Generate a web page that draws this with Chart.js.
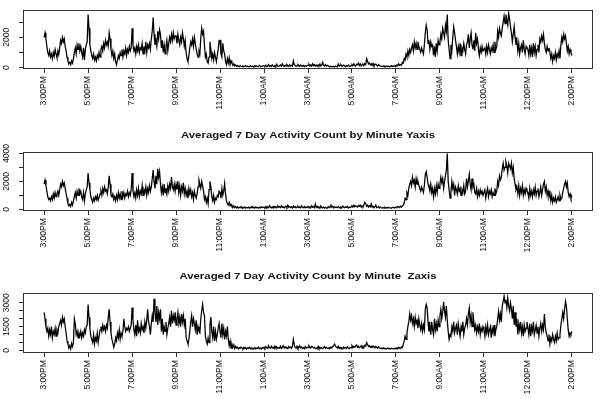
<!DOCTYPE html>
<html><head><meta charset="utf-8">
<script src="https://cdn.jsdelivr.net/npm/chart.js"></script>
<style>
html,body{margin:0;padding:0;background:#fff;width:600px;height:399px;overflow:hidden}
canvas{position:absolute;left:0}
</style></head><body>
<canvas id="c1" width="600" height="120" style="top:0px"></canvas>
<canvas id="c2" width="600" height="142" style="top:120px"></canvas>
<canvas id="c3" width="600" height="137" style="top:262px"></canvas>
<script>
// tick labels (one tick every 120 minutes)
const xTickLabels = ["3:00PM","5:00PM","7:00PM","9:00PM","11:00PM","1:00AM","3:00AM","5:00AM","7:00AM","9:00AM","11:00AM","12:00PM","2:00PM"];
const xTickIndex = [0,24,48,72,96,120,144,168,192,216,240,264,288];

const titleY = "Averaged 7 Day Activity Count by Minute Yaxis";
const titleZ = "Averaged 7 Day Activity Count by Minute  Zaxis";

// activity counts (48 samples per 2-hour tick interval, from 3:00PM)
const xAxisCounts = [
2000,2300,1900,1400,1000,800,1100,700,900,600,1000,750,
1200,900,650,1100,850,1300,1800,1600,2000,1700,1900,1400,
1100,700,450,250,350,200,450,300,600,1000,1300,900,
1500,1200,1600,1100,1400,1000,700,1300,500,1200,1500,1700,
3500,2600,1500,1100,800,600,900,500,700,450,800,600,
1000,700,1200,1400,1100,1600,1300,1800,1500,1700,1400,2300,
1900,1200,800,1100,600,900,400,200,500,800,600,1000,
800,1200,700,1100,900,1300,800,1200,1000,1400,1100,1300,
2600,1500,1100,1300,900,1400,1100,1500,1000,1300,1200,1600,
900,1400,1100,1700,1000,1500,1300,1600,1200,1900,2400,3300,
2200,1500,1800,1400,2400,1900,2500,2200,1300,1800,1000,1500,
900,1400,1800,1100,1600,2000,1700,2200,1800,2300,1900,2100,
2100,1600,2200,1800,1500,2000,1700,2300,1900,1400,1800,1000,
600,400,800,1300,1700,1500,1900,1400,2000,1600,1200,900,
700,1100,900,2000,2600,2200,2400,1500,700,900,400,300,
700,1700,1200,600,900,500,1000,700,400,800,1200,1800,
1800,900,700,1600,1100,900,400,200,600,300,650,200,
450,300,150,250,120,180,80,140,100,60,130,90,
70,110,60,90,140,70,100,60,80,120,70,100,
90,60,130,80,110,70,90,150,60,100,80,120,
120,80,160,60,100,200,90,130,70,180,110,60,
150,90,220,100,70,130,180,90,250,120,80,160,
100,200,130,70,180,110,150,90,450,200,140,90,
110,200,130,80,170,110,90,150,70,120,90,140,
150,220,100,180,90,250,130,200,110,160,80,190,
120,230,100,170,350,140,110,200,90,160,120,80,
60,90,70,60,80,50,90,70,60,240,110,150,
200,90,130,170,100,60,130,90,170,110,80,140,
200,120,250,150,90,220,180,300,140,250,110,180,
230,130,270,200,600,420,250,300,180,250,150,280,
120,200,240,160,90,200,130,110,80,100,70,120,
60,90,110,70,100,60,80,130,70,110,90,140,
100,180,120,250,150,200,160,350,300,600,500,900,
700,1100,800,1200,1000,1300,1500,1100,1700,1300,1600,1200,
1700,1400,1200,1000,1300,1100,900,1500,2300,2800,2500,1600,
1800,1200,1700,1400,1500,800,1400,700,1600,1100,1800,1500,
1700,2200,1900,2600,2300,2000,2800,2400,3500,1800,1200,600,
1500,1100,2000,2700,2300,1800,1400,900,1400,1000,1600,800,
1300,1100,1600,1200,900,1500,1700,2200,1300,1900,2300,1500,
1200,1800,1100,2300,1600,1900,1200,800,1300,1000,1400,1100,
1100,1300,900,1400,1000,1500,1200,900,1300,1100,1500,1000,
1700,1200,1400,2400,2000,2600,2300,2100,2600,3000,3400,2900,
3500,3100,2800,3600,3200,2700,2300,1700,2200,2700,2000,1500,
1800,1100,1600,900,1300,1500,1000,1800,1200,900,1400,1300,
1200,800,1500,900,1300,700,1600,1000,1400,800,1200,1500,
1000,1900,1700,2100,1800,2200,1600,1200,1000,1400,1100,1300,
1000,600,900,400,800,600,1000,500,900,700,1100,600,
1500,2000,1700,2200,1900,2100,1600,1100,1400,900,1200,1000,
800
];
const yAxisCounts = [
1800,2100,1700,1300,900,700,800,600,900,700,1100,800,
1200,900,1100,1300,1000,1400,1800,1600,2000,1700,1900,1500,
1100,800,400,250,350,200,500,300,600,900,1200,800,
1300,1000,1500,1100,1300,900,700,1200,600,1100,1400,1600,
2600,1900,1400,900,700,500,800,600,900,700,1000,650,
850,1100,1300,1000,1500,1200,1600,1300,1400,1100,1600,2400,
1800,1000,900,1100,700,900,600,1000,700,1200,800,1100,
700,1300,900,1200,800,1100,1000,1300,900,1200,1000,1400,
2600,1300,900,1200,800,1400,1000,1500,900,1300,1100,1700,
1000,1400,1200,1600,1000,1500,1200,1700,1300,1600,2200,2800,
2000,1500,2400,1800,2900,2300,2700,1800,1200,1600,1000,1800,
1200,1500,1100,1700,1300,1800,1500,2300,1600,1400,1800,1300,
1800,1400,2000,1200,1700,1000,1600,1300,1900,1100,1500,1000,
1300,800,1500,1100,1400,900,1200,700,1300,1000,800,1100,
1600,2100,1800,1500,2000,1700,1300,700,900,500,800,400,
1400,2000,1600,900,600,1000,500,800,700,1000,900,1300,
1200,800,1500,1000,1300,1860,1100,600,400,300,500,250,
350,200,150,250,120,200,100,180,90,150,120,200,
80,140,100,170,90,130,110,160,80,150,120,200,
100,140,90,170,110,130,80,150,100,190,120,140,
150,100,200,80,180,120,260,140,100,180,90,220,
130,160,110,250,150,200,120,250,140,180,100,160,
220,130,300,150,200,120,180,90,240,140,190,110,
160,220,130,180,100,250,150,120,200,110,170,130,
200,130,180,100,250,150,200,120,380,140,200,110,
160,90,240,130,100,170,80,130,100,80,200,120,
160,300,150,220,100,180,130,150,110,200,140,90,
170,120,230,150,110,180,140,200,100,160,130,170,
240,160,300,180,250,200,160,280,220,300,160,250,
180,320,500,400,220,300,160,250,180,400,150,220,
140,180,300,120,150,200,100,160,110,90,130,80,
150,100,120,90,140,100,110,80,130,150,100,130,
150,120,200,180,130,220,160,250,300,450,800,700,
1200,1000,1500,1800,2000,1700,2300,1900,2100,1600,2200,1800,
2000,1700,1500,1300,1600,1400,1200,1700,2500,2700,2300,1800,
1600,1300,1800,1200,1500,900,1500,1100,1700,1200,1800,1500,
1800,2300,1900,2200,1500,2000,2400,2800,4000,2000,1400,800,
1200,2000,1500,1800,1000,1600,1400,1100,1700,1300,1500,1000,
1400,1200,1700,1100,1300,2200,1600,2000,2500,1800,1400,2200,
1600,1800,1200,1100,1500,900,1300,1000,1400,1100,1300,1000,
1000,1400,800,1200,1500,900,1300,1100,1400,900,1200,1000,
1500,1100,1300,2000,1700,2400,2100,2300,2900,3300,2800,3000,
3400,3100,2600,3300,3100,2900,3300,2600,3000,2200,1800,1400,
1600,1100,1700,1000,1500,1200,1700,1000,1400,1100,1500,1300,
1200,800,1500,1000,1300,900,1400,1100,1600,1000,1300,1500,
900,1200,1600,1000,1400,1800,2000,1300,1600,1000,1300,900,
1200,600,1000,500,800,600,900,500,700,900,600,1000,
700,800,1200,1500,1800,2000,1600,1900,1200,900,1100,800,
1000
];
const zAxisCounts = [
2400,2000,1500,1200,1400,900,1300,1000,1500,800,1200,1000,
1400,900,1300,1100,1500,1700,1900,1600,2100,1800,2000,1500,
1100,600,400,150,300,100,450,250,500,2000,1700,1000,
1200,800,1100,900,1200,800,1100,900,1300,1100,1500,1600,
2900,2100,1400,900,700,500,1000,400,800,600,1100,500,
900,1300,1500,1200,1600,1300,1500,1200,1600,1400,2100,2600,
1800,1100,700,500,200,400,800,600,1100,800,1300,700,
1100,900,1200,2000,1500,1200,1400,1300,1500,1200,1400,1600,
2700,1900,1300,1000,1600,900,1900,1200,1400,1100,1700,1300,
1500,1100,1800,1400,1900,2600,1800,1500,1000,1700,2200,1800,
3250,2400,1800,2800,1600,2400,2000,2600,1200,2000,1000,1500,
1200,1800,1000,1400,1700,2100,1500,2500,1700,2200,1900,2400,
1600,2000,2400,1700,2100,1500,2300,1800,2200,1600,2000,800,
600,400,700,1200,1800,2200,1500,2000,1700,1300,1900,1000,
1500,1200,1100,2000,2500,2900,2400,2200,900,600,400,800,
500,1600,2100,1200,800,1500,600,1200,700,1000,1400,1700,
1200,800,1700,1000,1400,700,1200,900,1500,700,300,600,
150,400,200,350,120,250,150,200,100,180,130,220,
150,100,200,120,180,90,150,130,200,110,170,90,
140,120,190,100,160,130,210,110,150,90,180,140,
200,130,250,160,120,300,180,140,260,150,200,120,
280,160,230,130,180,150,260,120,200,300,160,220,
140,190,120,250,170,210,140,280,700,350,180,150,
260,120,200,300,160,220,130,190,110,240,150,200,
180,300,200,150,260,230,160,200,120,150,100,250,
120,200,130,170,110,160,250,130,200,150,120,180,
140,220,160,250,300,400,280,200,150,260,120,200,
130,170,100,210,140,180,120,230,150,110,190,160,
300,180,250,200,280,350,200,260,180,220,300,150,
260,180,330,280,500,380,250,300,200,260,180,280,
220,160,250,200,140,230,150,120,150,100,170,110,
130,90,120,150,100,130,90,140,110,120,100,140,
120,160,100,200,150,130,220,180,400,600,900,700,
1100,1500,1800,2300,1900,2200,1700,2000,1500,2100,1700,1900,
1400,2000,1600,1300,1700,1200,1600,1300,2600,2900,2700,1800,
1200,1600,1000,1800,1300,1000,2000,1300,1700,1200,1900,1500,
2200,2600,2000,2400,3060,2500,2100,2800,1900,1200,700,1000,
900,1500,1200,1800,1100,1400,1600,1000,1700,1300,900,1500,
1200,1800,1000,1400,1600,2000,1600,2300,2680,1800,2200,1500,
2400,1800,1300,1600,1100,1500,1200,1700,1000,1400,1200,1500,
1300,900,1500,1100,1600,1000,1300,1500,800,1400,1100,1600,
900,1300,1500,2000,2470,1900,2300,1800,2800,3100,3420,3000,
3200,2700,3300,2800,2500,3000,2600,2000,2800,1600,2400,1500,
2000,1000,1700,1300,1800,1100,1500,900,1600,1200,1400,1800,
1400,1000,1700,900,1500,1200,1800,1000,1300,1600,1100,1500,
900,1400,1700,1200,1600,1300,2300,1500,1100,900,600,1000,
400,800,600,1000,700,500,900,600,1100,700,800,1000,
1600,2000,2400,2000,2600,3100,2800,2000,1300,900,1100,1000,
1200
];

const yTicks1 = [0,1000,2000,3000];       const yLabels1 = [0,2000];
const yTicks2 = [0,1000,2000,3000,4000];  const yLabels2 = [0,2000,4000];
const yTicks3 = [0,500,1000,1500,2000,2500,3000]; const yLabels3 = [0,1500,3000];

const FONT = "'Liberation Sans Narrow','Liberation Sans',Arial,sans-serif";
const LAST_TICK = xTickIndex[xTickIndex.length - 1];

const deco = {
  id: 'deco',
  afterDraw(chart, args, o) {
    const {ctx, chartArea: a} = chart;
    ctx.save();
    ctx.strokeStyle = '#333';
    ctx.lineWidth = 1;
    ctx.strokeRect(Math.round(a.left) + 0.5, Math.round(a.top) + 0.5,
                   Math.round(a.right - a.left) - 1, Math.round(a.bottom - a.top) - 1);
    const ys = chart.scales.y;
    ctx.fillStyle = '#111';
    ctx.font = o.yFont + 'px ' + FONT;
    ctx.textAlign = 'center';
    ctx.textBaseline = 'middle';
    o.labels.forEach(v => {
      const py = ys.getPixelForValue(v);
      ctx.save();
      ctx.translate(o.labelX, py);
      ctx.rotate(-Math.PI / 2);
      ctx.fillText(String(v), 0, 0);
      ctx.restore();
    });
    if (o.title) {
      ctx.save();
      ctx.translate((a.left + a.right) / 2, o.titleY);
      ctx.scale(1, 0.82);
      ctx.font = 'bold 11.4px ' + "'Liberation Sans',Arial,sans-serif";
      ctx.fillStyle = '#111';
      ctx.fillText(o.title, 0, 0);
      ctx.restore();
    }
    ctx.restore();
  }
};

function make(id, counts, yMin, yMax, yTicks, yLabels, title, titleYPos, padTop, xHeight) {
  const step = LAST_TICK / (counts.length - 1);
  return new Chart(document.getElementById(id), {
    type: 'line',
    data: {
      datasets: [{
        data: counts.map((v, i) => ({x: i * step, y: v})),
        borderColor: '#000',
        borderWidth: 1.25,
        pointRadius: 0,
        tension: 0,
        fill: false
      }]
    },
    options: {
      responsive: false,
      animation: false,
      events: [],
      layout: {padding: {left: 0, right: 7, top: padTop, bottom: 0}},
      plugins: {
        legend: {display: false},
        tooltip: {enabled: false},
        title: {display: false},
        deco: {labels: yLabels, labelX: 7, yFont: 8.5, title: title, titleY: titleYPos}
      },
      scales: {
        x: {
          type: 'linear',
          min: -11.52, max: 299.52,
          afterBuildTicks: s => { s.ticks = xTickIndex.map(v => ({value: v})); },
          afterFit: s => { s.height = xHeight; },
          ticks: {
            autoSkip: false, minRotation: 90, maxRotation: 90,
            callback: (v, i) => xTickLabels[i],
            font: {family: FONT, size: 8.6},
            color: '#111',
            padding: 3
          },
          grid: {drawOnChartArea: false, drawTicks: true, tickLength: 4, color: '#333'},
          border: {display: false}
        },
        y: {
          type: 'linear',
          min: yMin, max: yMax,
          afterBuildTicks: s => { s.ticks = yTicks.map(v => ({value: v})); },
          afterFit: s => { s.width = 23; },
          ticks: {display: false},
          grid: {drawOnChartArea: false, drawTicks: true, tickLength: 4, color: '#333'},
          border: {display: false}
        }
      }
    },
    plugins: [deco]
  });
}

make('c1', xAxisCounts, -90, 3800, yTicks1, yLabels1, null, 0, 10, 51);
make('c2', yAxisCounts, -120, 4100, yTicks2, yLabels2, titleY, 15, 32, 51);
make('c3', zAxisCounts, -160, 3620, yTicks3, yLabels3, titleZ, 14.7, 31, 46);
</script>
</body></html>
